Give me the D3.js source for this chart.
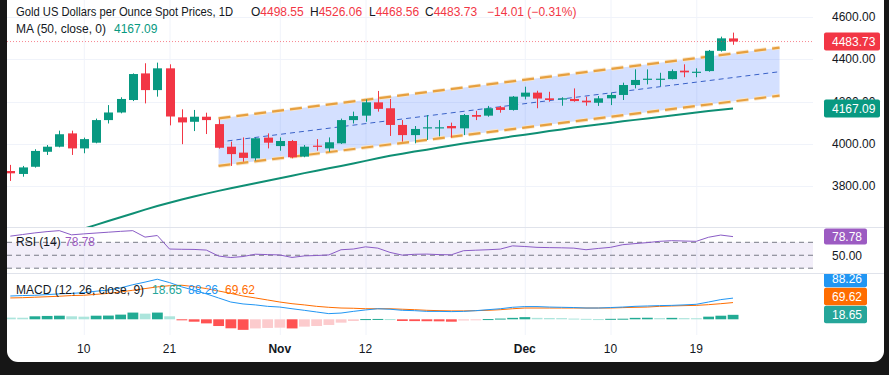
<!DOCTYPE html>
<html><head><meta charset="utf-8">
<script src="https://cdnjs.cloudflare.com/ajax/libs/d3/7.8.5/d3.min.js"></script>
<style>
html,body{margin:0;padding:0;background:#161616;overflow:hidden}
svg{display:block}
text{font-family:"Liberation Sans",Arial,sans-serif;font-size:12px}
</style>
</head><body>
<svg id="c" width="889" height="375"></svg>
<script>
// ---------------- DATA ----------------
const dates = ["2025-10-02","2025-10-03","2025-10-06","2025-10-07","2025-10-08","2025-10-09","2025-10-10","2025-10-13","2025-10-14","2025-10-15","2025-10-16","2025-10-17","2025-10-20","2025-10-21","2025-10-22","2025-10-23","2025-10-24","2025-10-27","2025-10-28","2025-10-29","2025-10-30","2025-10-31","2025-11-03","2025-11-04","2025-11-05","2025-11-06","2025-11-07","2025-11-10","2025-11-11","2025-11-12","2025-11-13","2025-11-14","2025-11-17","2025-11-18","2025-11-19","2025-11-20","2025-11-21","2025-11-24","2025-11-25","2025-11-26","2025-11-27","2025-11-28","2025-12-01","2025-12-02","2025-12-03","2025-12-04","2025-12-05","2025-12-08","2025-12-09","2025-12-10","2025-12-11","2025-12-12","2025-12-15","2025-12-16","2025-12-17","2025-12-18","2025-12-19","2025-12-22","2025-12-23","2025-12-24"];
const open  = [3871,3857,3891,3962,3986,4049,3978,4005,4112,4148,4207,4333,4254,4357,4125,4104,4128,4093,3986,3958,3931,4029,3989,4013,3939,3991,3978,4002,4112,4133,4196,4168,4089,4041,4073,4076,4084,4073,4136,4133,4173,4160,4223,4242,4215,4212,4212,4204,4194,4215,4231,4278,4303,4305,4306,4346,4338,4344,4440,4498.55];
const high  = [3900,3895,3974,3994,4062,4062,4029,4119,4183,4220,4333,4381,4384,4376,4163,4160,4147,4116,4010,4030,4030,4049,4030,4018,3994,4022,4030,4119,4152,4210,4250,4212,4112,4084,4136,4112,4100,4141,4156,4179,4179,4226,4270,4251,4246,4220,4262,4223,4226,4242,4289,4352,4352,4336,4352,4376,4357,4444,4507,4526.06];
const low   = [3824,3844,3887,3947,3983,3947,3955,4002,4096,4144,4202,4191,4223,4087,3998,4060,4046,3977,3895,3915,3920,3978,3967,3931,3936,3967,3962,3999,4096,4104,4152,4037,4010,4002,4018,4035,4030,4041,4112,4128,4147,4157,4210,4168,4199,4180,4199,4180,4179,4183,4207,4262,4281,4273,4305,4315,4315,4341,4436,4468.56];
const close = [3860,3888,3966,3986,4045,3978,4022,4112,4148,4212,4330,4254,4357,4129,4101,4128,4112,3981,3951,3933,4026,4005,4013,3936,3986,3986,4007,4112,4131,4196,4165,4089,4041,4070,4078,4078,4073,4136,4128,4168,4160,4223,4242,4214,4207,4215,4202,4196,4215,4231,4278,4302,4308,4308,4344,4338,4341,4440,4499,4483.73];
const ma50  = [3490,3508,3526,3544,3562,3580,3598,3616,3634,3652,3670,3688,3705,3721,3736,3750,3764,3777,3789,3801,3813,3825,3837,3849,3861,3872,3884,3895,3907,3919,3931,3943,3953,3963,3972,3982,3992,4001,4010,4018,4026,4035,4043,4051,4060,4068,4077,4084,4091,4098,4106,4113,4120,4127,4134,4141,4148,4155,4161,4167.09];
const rsi   = [79.5,82,84.5,86.5,88,81.5,83,84.3,85.6,86.9,88,78,80.5,59.6,59.2,59,58,48.8,46.5,48,51.6,51,50.5,46.6,49,49.6,50.5,58.5,59.6,63,61,54.4,50.2,51.5,51.8,51,50.7,57,57.8,58.5,59.5,64.5,63.5,62.2,61.8,61.5,61,58.5,60.5,62.2,66.3,68,69.5,71.5,72.5,72,71.5,77.8,81.2,78.78];
const macd  = [97,99,100,103,106,108,111,117,122,131,144,155,167,153,135,121,106,89,72,64,60,54,51,44,37.5,30.5,23.6,26,33,39,44,42,37.5,36,33,33,32,33,36,40,44,50,53,53,51,50,49,47,47,49,51,54,55.5,57,58,60,62.5,72,82,88.26];
const signal= [89,90,92,94,96,99,100,104,108,114,121,128,135,140,142,136,128,118,108,97,89,80.5,72,65,60,54,50,47,46,44,44,44,42,40,37.5,36,35,35,36,37.5,40,44,47,47,47,47,47,47,47,47,48.6,50,51,54,55.5,57,58,61,65,69.62];
const hist  = [7,6.5,12.5,14,15,12.5,11,15,15.5,19.5,28,23.6,28,12.5,-1,-10,-17,-28,-37.5,-44,-38,-36,-35,-38,-30.5,-28,-23.6,-14,-7,1,1.5,1,-7,-7.5,-8,-8.5,-10,-5,-3,1,3,6,9,6,5.5,5,3,2,1,2,2.5,6,6.5,5,6,5,4.5,11,15,18.65];
const priceTicks = [3800,4000,4200,4400,4600];
const timeTickDates  = ["2025-10-10","2025-10-21","2025-11-03","2025-11-12","2025-12-01","2025-12-10","2025-12-19"];
const timeTickLabels = ["10","21","Nov","12","Dec","10","19"];
const timeTickBold   = [false,false,true,false,true,false,false];
const channelIdx   = [17,62.8];
const channelUpper = [4120,4455];
const channelMid   = [4008,4341];
const channelLower = [3895,4228];
const rsiLevels = [70,50,30];

// ---------------- LAYOUT ----------------
const svg = d3.select("#c");
const C = {up:"#089981",down:"#f23645",text:"#131722",grid:"#f0f3fa",sep:"#e0e3eb"};
const L = 7, R = 813, AX = 832;
const mainTop = 0, mainBot = 227, rsiTop = 228, rsiBot = 273, macdTop = 274, macdBot = 335;

svg.append("rect").attr("x",L).attr("y",-12).attr("width",877).attr("height",374).attr("rx",11).attr("fill","#ffffff");

const x = d3.scaleLinear().domain([0, dates.length-1]).range([10.3, 733]);
const y = d3.scaleLinear().domain([3800,4600]).range([186,17]);
const yR = d3.scaleLinear().domain([30,70]).range([268.2,242.3]);
const yM = d3.scaleLinear().domain([0,100]).range([319.3,295.3]);

const defs = svg.append("defs");
function clip(id,y0,y1){defs.append("clipPath").attr("id",id).append("rect").attr("x",L).attr("y",y0).attr("width",R-L).attr("height",y1-y0);}
clip("cm",mainTop,mainBot); clip("cr",rsiTop,rsiBot); clip("cd",macdTop,macdBot);

// vertical grid
const idxOf = d => dates.indexOf(d);
svg.append("g").selectAll("line").data(timeTickDates).join("line")
  .attr("x1",d=>x(idxOf(d))+0.5).attr("x2",d=>x(idxOf(d))+0.5).attr("y1",0).attr("y2",macdBot)
  .attr("stroke",C.grid).attr("stroke-width",1);
// horizontal grid main
svg.append("g").selectAll("line").data(priceTicks).join("line")
  .attr("x1",L).attr("x2",R).attr("y1",d=>Math.round(y(d))+0.5).attr("y2",d=>Math.round(y(d))+0.5)
  .attr("stroke",C.grid);
// pane separators
svg.append("g").selectAll("line").data([mainBot+0.5, rsiBot+0.5]).join("line")
  .attr("x1",L).attr("x2",884).attr("y1",d=>d).attr("y2",d=>d).attr("stroke",C.sep);

// ---------------- MAIN PANE ----------------
const gm = svg.append("g").attr("clip-path","url(#cm)");
// channel fill
const poly = [[channelIdx[0],channelUpper[0]],[channelIdx[1],channelUpper[1]],[channelIdx[1],channelLower[1]],[channelIdx[0],channelLower[0]]];
gm.append("path").attr("d","M"+poly.map(p=>x(p[0])+","+y(p[1])).join("L")+"Z")
  .attr("fill","rgba(41,98,255,0.2)");
const lineXY = (vals)=> "M"+x(channelIdx[0])+","+y(vals[0])+"L"+x(channelIdx[1])+","+y(vals[1]);
gm.append("path").attr("d",lineXY(channelMid)).attr("stroke","#3a62c8").attr("stroke-width",1).attr("stroke-dasharray","5,4").attr("fill","none");
[channelUpper,channelLower].forEach(v=>{
  gm.append("path").attr("d",lineXY(v)).attr("stroke","#fbe6c8").attr("stroke-width",4).attr("stroke-dasharray","12,6").attr("fill","none");
  gm.append("path").attr("d",lineXY(v)).attr("stroke","#e6a040").attr("stroke-width",2.2).attr("stroke-dasharray","12,6").attr("fill","none");
});
// MA
gm.append("path").datum(ma50).attr("fill","none").attr("stroke","#0f8f74").attr("stroke-width",2)
  .attr("d",d3.line().x((d,i)=>x(i)).y(d=>y(d)));
// candles
const bw = 9;
const cg = gm.append("g").selectAll("g").data(dates).join("g");
cg.append("line").attr("x1",(d,i)=>Math.round(x(i))+0.5).attr("x2",(d,i)=>Math.round(x(i))+0.5)
  .attr("y1",(d,i)=>y(high[i])).attr("y2",(d,i)=>y(low[i]))
  .attr("stroke",(d,i)=>close[i]>=open[i]?C.up:C.down).attr("stroke-width",1);
cg.append("rect").attr("x",(d,i)=>Math.round(x(i))-4).attr("width",bw)
  .attr("y",(d,i)=>y(Math.max(open[i],close[i])))
  .attr("height",(d,i)=>Math.max(1.2,Math.abs(y(open[i])-y(close[i]))))
  .attr("fill",(d,i)=>close[i]>=open[i]?C.up:C.down);
// last price line
const last = close[close.length-1];
gm.append("line").attr("x1",L).attr("x2",R).attr("y1",y(last)).attr("y2",y(last))
  .attr("stroke",C.down).attr("stroke-opacity",0.6).attr("stroke-dasharray","1,2");

// price axis labels
svg.append("g").selectAll("text").data(priceTicks).join("text")
  .attr("x",AX).attr("y",d=>y(d)).attr("dy","0.35em").attr("fill",C.text)
  .text(d=>d3.format(".2f")(d));
function box(val,cy,col,w,h,txtCol){
  svg.append("rect").attr("x",824).attr("y",cy-h/2).attr("width",w).attr("height",h).attr("rx",2).attr("fill",col);
  svg.append("text").attr("x",AX).attr("y",cy).attr("dy","0.36em").attr("fill",txtCol||"#fff").text(d3.format(".2f")(val));
}
box(last, y(last), C.down, 56, 18);
box(ma50[ma50.length-1], y(ma50[ma50.length-1]), "#089981", 56, 18);

// ---------------- RSI PANE ----------------
const gr = svg.append("g").attr("clip-path","url(#cr)");
gr.append("rect").attr("x",L).attr("width",R-L).attr("y",yR(70)).attr("height",yR(30)-yR(70)).attr("fill","rgba(126,87,194,0.1)");
gr.selectAll("line.lv").data(rsiLevels).join("line")
  .attr("x1",L).attr("x2",R).attr("y1",d=>yR(d)).attr("y2",d=>yR(d))
  .attr("stroke","#787b86").attr("stroke-dasharray","5,4").attr("stroke-width",1);
gr.append("path").datum(rsi).attr("fill","none").attr("stroke","#8a5cc6").attr("stroke-width",1)
  .attr("d",d3.line().x((d,i)=>x(i)).y(d=>yR(d)));
box(rsi[rsi.length-1], yR(rsi[rsi.length-1]), "#9c5bc2", 43, 16);
svg.append("text").attr("x",AX).attr("y",yR(50)).attr("dy","0.36em").attr("fill",C.text).text("50.00");

// ---------------- MACD PANE ----------------
const gd = svg.append("g").attr("clip-path","url(#cd)");
const hcol = (v,i)=>{const p = i>0?hist[i-1]:v; return v>=0 ? (v>p?"#22ab94":"#ace5dc") : (v<p?"#ff5252":"#fccbcd");};
gd.selectAll("rect").data(hist).join("rect")
  .attr("x",(d,i)=>x(i)-5.3).attr("width",10.8)
  .attr("y",d=>Math.min(yM(d),yM(0))).attr("height",d=>Math.max(1,Math.abs(yM(d)-yM(0))))
  .attr("fill",(d,i)=>hcol(d,i));
gd.append("path").datum(signal).attr("fill","none").attr("stroke","#ff6d00").attr("stroke-width",1)
  .attr("d",d3.line().x((d,i)=>x(i)).y(d=>yM(d)));
gd.append("path").datum(macd).attr("fill","none").attr("stroke","#2196f3").attr("stroke-width",1)
  .attr("d",d3.line().x((d,i)=>x(i)).y(d=>yM(d)));
// stacked labels
{
  const items = [
    {v:hist[hist.length-1], c:"#26a69a"},
    {v:signal[signal.length-1], c:"#ff6d00"},
    {v:macd[macd.length-1], c:"#2196f3"}
  ];
  const h = 18; let prev = null;
  defs.append("clipPath").attr("id","cdl").append("rect").attr("x",800).attr("y",macdTop).attr("width",89).attr("height",macdBot-macdTop);
  const gl = svg.append("g").attr("clip-path","url(#cdl)");
  items.forEach(it=>{
    let cy = yM(it.v);
    if(prev!==null) cy = Math.min(cy, prev - h);
    prev = cy;
    gl.append("rect").attr("x",824).attr("y",cy-h/2).attr("width",43).attr("height",h-0.6).attr("rx",2).attr("fill",it.c);
    gl.append("text").attr("x",AX).attr("y",cy).attr("dy","0.36em").attr("fill","#fff").text(d3.format(".2f")(it.v));
  });
}

// ---------------- TIME AXIS ----------------
svg.append("g").selectAll("text").data(timeTickDates).join("text")
  .attr("x",d=>x(idxOf(d))).attr("y",353).attr("text-anchor","middle").attr("fill",C.text)
  .attr("font-weight",(d,i)=>timeTickBold[i]?"bold":"normal").text((d,i)=>timeTickLabels[i]);

// ---------------- LEGENDS ----------------
const i0 = close.length-1;
svg.append("text").attr("x",16).attr("y",16).attr("fill",C.text).attr("textLength",217).attr("lengthAdjust","spacingAndGlyphs")
  .text("Gold US Dollars per Ounce Spot Prices, 1D");
const ohlc = [["O",open[i0],251],["H",high[i0],310],["L",low[i0],369],["C",close[i0],425]];
ohlc.forEach(([k,v,px])=>{
  const t = svg.append("text").attr("x",px).attr("y",16).attr("fill",C.text);
  t.append("tspan").text(k);
  t.append("tspan").attr("fill",C.down).text(d3.format(".2f")(v));
});
svg.append("text").attr("x",487).attr("y",16).attr("fill",C.down)
  .text("\u221214.01 (\u22120.31%)");
const ma = svg.append("text").attr("x",16).attr("y",33).attr("fill",C.text);
ma.append("tspan").text("MA (50, close, 0)");
ma.append("tspan").attr("x",114).attr("fill","#089981").text(d3.format(".2f")(ma50[ma50.length-1]));

const rl = svg.append("text").attr("x",16).attr("y",246).attr("fill",C.text);
rl.append("tspan").text("RSI (14)");
rl.append("tspan").attr("x",65).attr("fill","#9c5bc2").text(d3.format(".2f")(rsi[rsi.length-1]));

const ml = svg.append("text").attr("x",16).attr("y",294).attr("fill",C.text);
ml.append("tspan").text("MACD (12, 26, close, 9)");
ml.append("tspan").attr("x",152).attr("fill","#26a69a").text(d3.format(".2f")(hist[hist.length-1]));
ml.append("tspan").attr("x",188).attr("fill","#2196f3").text(d3.format(".2f")(macd[macd.length-1]));
ml.append("tspan").attr("x",225).attr("fill","#ff6d00").text(d3.format(".2f")(signal[signal.length-1]));
</script>
</body></html>
